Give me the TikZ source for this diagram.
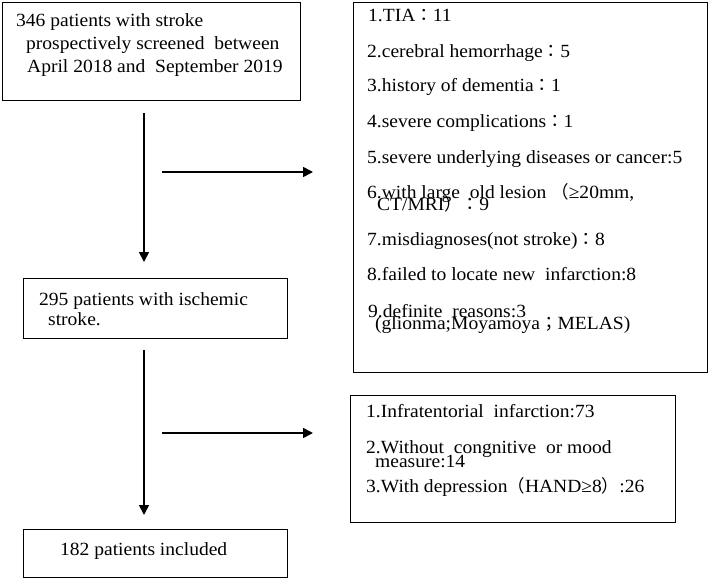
\documentclass[tikz,border=0pt]{standalone}
\usepackage{fontspec}
\setmainfont{Liberation Serif}[FakeStretch=1.05]
\newfontfamily\cjk{Noto Sans CJK TC}
\usetikzlibrary{arrows.meta}
\newcommand{\fw}[1]{{\cjk\fontsize{17.5}{20}\selectfont #1}}
\tikzset{
  box/.style={draw, line width=1.2pt, inner sep=0pt, anchor=north west},
  txt/.style={anchor=base west, inner sep=0pt, font=\fontsize{18.6}{22}\selectfont},
  arr/.style={line width=1.6pt, -{Triangle[length=10pt,width=10pt]}},
}
\begin{document}
\begin{tikzpicture}[x=1pt,y=-1pt]
\useasboundingbox (0,0) rectangle (709,578);
% boxes
\node[box, minimum width=298pt, minimum height=98pt] (b1) at (2,2) {};
\node[box, minimum width=264pt, minimum height=60pt] (b2) at (23,278) {};
\node[box, minimum width=264pt, minimum height=48pt] (b3) at (23,529) {};
\node[box, minimum width=354pt, minimum height=370pt] (r1) at (353,2) {};
\node[box, minimum width=325pt, minimum height=127pt] (r2) at (350,395) {};
% box 1 text
\node[txt] (t11) at (16,27) {346 patients with stroke};
\node[txt] (t12) at (26,50) {prospectively screened\ \ between};
\node[txt] (t13) at (27,72) {April 2018 and\ \ September 2019};
% box 2 text
\node[txt] (t21) at (39,305) {295 patients with ischemic};
\node[txt] (t22) at (48,325) {stroke.};
% box 3 text
\node[txt] (t31) at (60,555) {182 patients included};
% right box 1
\node[txt] (e1) at (368,22) {1.TIA\fw{：}11};
\node[txt] (e2) at (367,57) {2.cerebral hemorrhage\fw{：}5};
\node[txt] (e3) at (367,92) {3.history of dementia\fw{：}1};
\node[txt] (e4) at (367,127) {4.severe complications\fw{：}1};
\node[txt] (e5) at (367,163) {5.severe underlying diseases or cancer:5};
\node[txt] (e6) at (367,198) {6.with large\ \ old lesion\ \fw{（}≥20mm,};
\node[txt] (e6b) at (377,210) {CT/MRI\fw{）：}9};
\node[txt] (e7) at (367,245) {7.misdiagnoses(not stroke)\fw{：}8};
\node[txt] (e8) at (367,280) {8.failed to locate new\ \ infarction:8};
\node[txt] (e9) at (368,317) {9.definite\ \ reasons:3};
\node[txt] (e9b) at (375,329) {(glionma;Moyamoya\fw{；}MELAS)};
% right box 2
\node[txt] (f1) at (366,417) {1.Infratentorial\ \ infarction:73};
\node[txt] (f2) at (366,453) {2.Without\ \ congnitive\ \ or mood};
\node[txt] (f2b) at (375,467) {measure:14};
\node[txt] (f3) at (366,492) {3.With depression\fw{（}HAND≥8\fw{）}:26};
% arrows
\coordinate (v1s) at (144,113);
\coordinate (v1e) at (144,262);
\coordinate (v2s) at (144,350);
\coordinate (v2e) at (144,515);
\coordinate (h1s) at (162,172);
\coordinate (h1e) at (313,172);
\coordinate (h2s) at (162,433);
\coordinate (h2e) at (313,433);
\draw[arr] (v1s) -- (v1e);
\draw[arr] (v2s) -- (v2e);
\draw[arr] (h1s) -- (h1e);
\draw[arr] (h2s) -- (h2e);
\end{tikzpicture}
\end{document}
